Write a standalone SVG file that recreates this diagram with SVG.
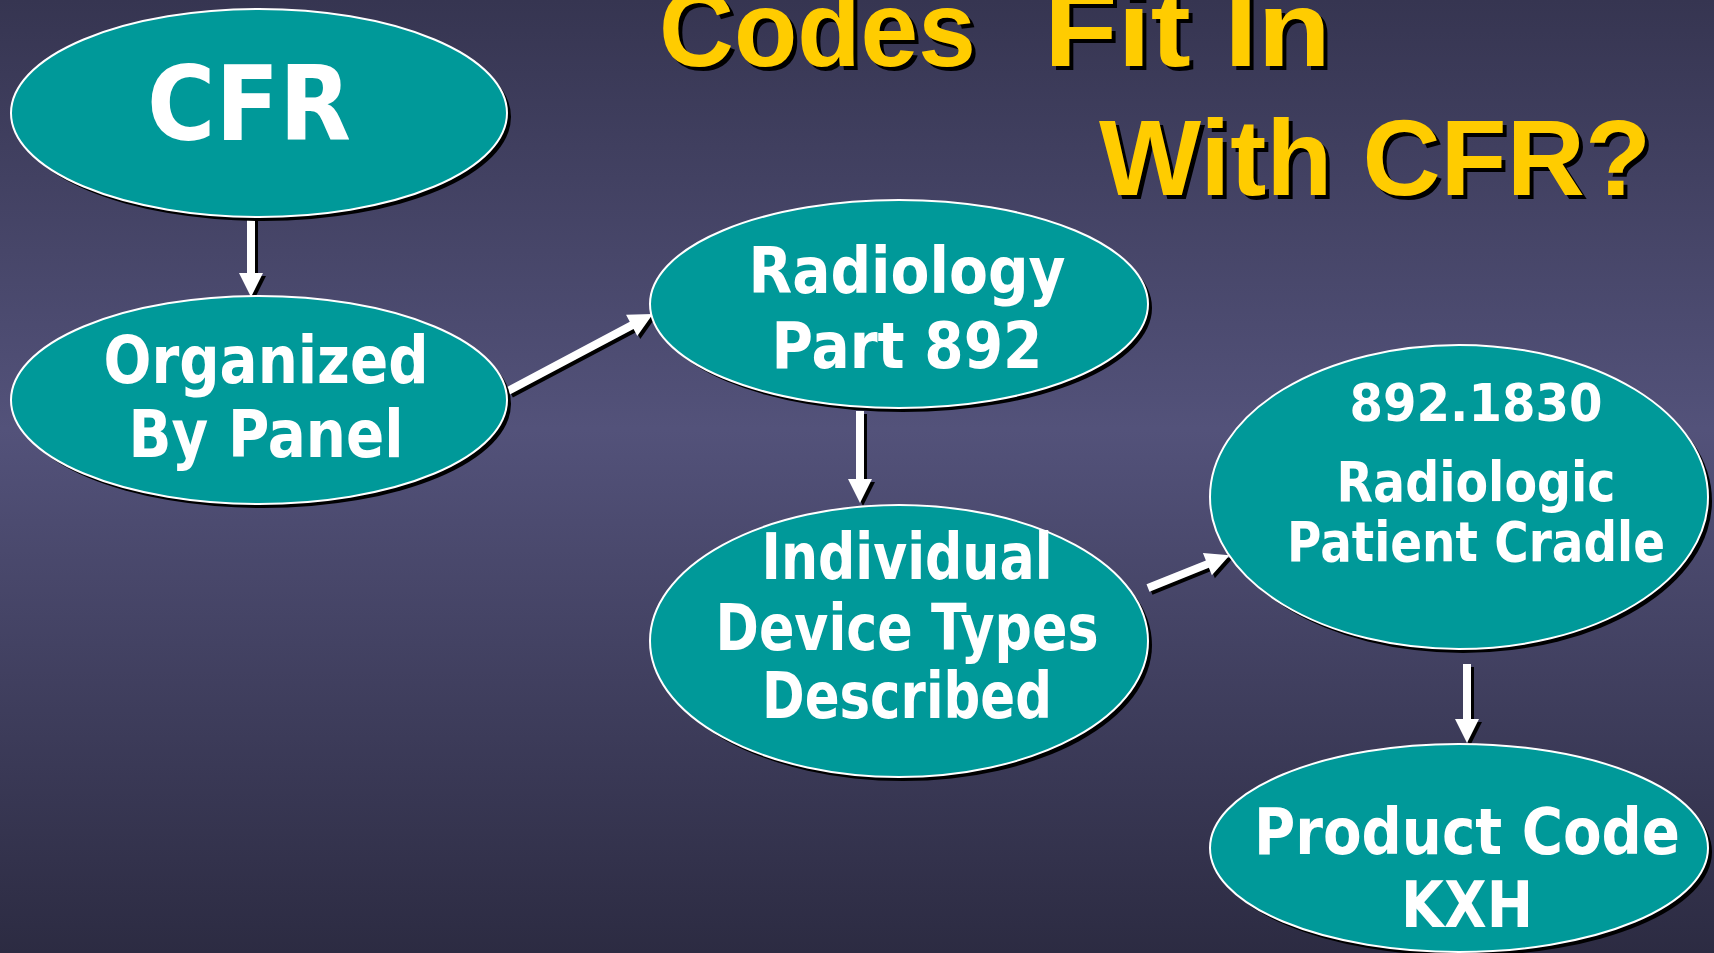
<svg xmlns="http://www.w3.org/2000/svg" width="1714" height="953" viewBox="0 0 1714 953">
<defs>
<linearGradient id="bg" x1="0" y1="0" x2="0" y2="1">
<stop offset="0" stop-color="#363551"/>
<stop offset="0.45" stop-color="#53527a"/>
<stop offset="1" stop-color="#2c2b42"/>
</linearGradient>
<style>
.node{fill:#009999;stroke:#ffffff;stroke-width:2}
.shadow{fill:#000000}
.lbl{font-family:"DejaVu Sans","Liberation Sans",sans-serif;font-weight:bold;fill:#ffffff;text-anchor:middle}
.title{font-family:"Liberation Sans",Arial,sans-serif;font-weight:bold;font-size:108px}
.ashadow{fill:#000000}
.arrow{fill:#ffffff}
</style>
</defs>
<rect x="0" y="0" width="1714" height="953" fill="url(#bg)"/>

<g id="title" class="title">
<text fill="#000000" transform="translate(4,4)"><tspan x="659" y="66" textLength="317" lengthAdjust="spacingAndGlyphs">Codes</tspan><tspan x="1044" y="66" textLength="287" lengthAdjust="spacingAndGlyphs">Fit In</tspan></text>
<text fill="#FFCC00"><tspan x="659" y="66" textLength="317" lengthAdjust="spacingAndGlyphs">Codes</tspan><tspan x="1044" y="66" textLength="287" lengthAdjust="spacingAndGlyphs">Fit In</tspan></text>
<text fill="#000000" x="1103" y="199" textLength="552" lengthAdjust="spacingAndGlyphs">With CFR?</text>
<text fill="#FFCC00" x="1099" y="195" textLength="552" lengthAdjust="spacingAndGlyphs">With CFR?</text>
</g>

<g id="connectors">
<!-- arrow 1 -->
<path class="ashadow" transform="translate(254,219) rotate(90)" d="M0,-4 H57 V-12 L81,0 L57,12 V4 H0 Z"/>
<path class="arrow" transform="translate(251,216) rotate(90)" d="M0,-4 H57 V-12 L81,0 L57,12 V4 H0 Z"/>
<!-- arrow 2 -->
<path class="ashadow" transform="translate(511,394) rotate(-27.96)" d="M0,-4 H140 V-12 L164,0 L140,12 V4 H0 Z"/>
<path class="arrow" transform="translate(508,391) rotate(-27.96)" d="M0,-4 H140 V-12 L164,0 L140,12 V4 H0 Z"/>
<!-- arrow 3 -->
<path class="ashadow" transform="translate(863,414) rotate(90)" d="M0,-4 H68 V-12 L92,0 L68,12 V4 H0 Z"/>
<path class="arrow" transform="translate(860,411) rotate(90)" d="M0,-4 H68 V-12 L92,0 L68,12 V4 H0 Z"/>
<!-- arrow 4 -->
<path class="ashadow" transform="translate(1151,591) rotate(-21.9)" d="M0,-4 H64 V-12 L88,0 L64,12 V4 H0 Z"/>
<path class="arrow" transform="translate(1148,588) rotate(-21.9)" d="M0,-4 H64 V-12 L88,0 L64,12 V4 H0 Z"/>
<!-- arrow 5 -->
<path class="ashadow" transform="translate(1470,667) rotate(90)" d="M0,-4 H55 V-12 L79,0 L55,12 V4 H0 Z"/>
<path class="arrow" transform="translate(1467,664) rotate(90)" d="M0,-4 H55 V-12 L79,0 L55,12 V4 H0 Z"/>
</g>

<g id="node-cfr">
<ellipse class="shadow" cx="263" cy="117" rx="248" ry="104"/>
<ellipse class="node" cx="259" cy="113" rx="248" ry="104"/>
<text class="lbl" x="249" y="140" font-size="104" textLength="204" lengthAdjust="spacingAndGlyphs">CFR</text>
</g>

<g id="node-organized">
<ellipse class="shadow" cx="263" cy="404" rx="248" ry="104"/>
<ellipse class="node" cx="259" cy="400" rx="248" ry="104"/>
<text class="lbl" x="266" y="383" font-size="66" textLength="325" lengthAdjust="spacingAndGlyphs">Organized</text>
<text class="lbl" x="266" y="457" font-size="66" textLength="275" lengthAdjust="spacingAndGlyphs">By Panel</text>
</g>

<g id="node-radiology">
<ellipse class="shadow" cx="903" cy="308" rx="249" ry="104"/>
<ellipse class="node" cx="899" cy="304" rx="249" ry="104"/>
<text class="lbl" x="907" y="293" font-size="64" textLength="317" lengthAdjust="spacingAndGlyphs">Radiology</text>
<text class="lbl" x="907" y="368" font-size="64" textLength="271" lengthAdjust="spacingAndGlyphs">Part 892</text>
</g>

<g id="node-individual">
<ellipse class="shadow" cx="903" cy="645" rx="249" ry="136"/>
<ellipse class="node" cx="899" cy="641" rx="249" ry="136"/>
<text class="lbl" x="907" y="579" font-size="64" textLength="291" lengthAdjust="spacingAndGlyphs">Individual</text>
<text class="lbl" x="907" y="650" font-size="64" textLength="383" lengthAdjust="spacingAndGlyphs">Device Types</text>
<text class="lbl" x="907" y="718" font-size="64" textLength="290" lengthAdjust="spacingAndGlyphs">Described</text>
</g>

<g id="node-cradle">
<ellipse class="shadow" cx="1463" cy="501" rx="249" ry="152"/>
<ellipse class="node" cx="1459" cy="497" rx="249" ry="152"/>
<text class="lbl" x="1476" y="421" font-size="52" textLength="253" lengthAdjust="spacingAndGlyphs">892.1830</text>
<text class="lbl" x="1476" y="501" font-size="56" textLength="279" lengthAdjust="spacingAndGlyphs">Radiologic</text>
<text class="lbl" x="1476" y="561" font-size="56" textLength="378" lengthAdjust="spacingAndGlyphs">Patient Cradle</text>
</g>

<g id="node-product">
<ellipse class="shadow" cx="1463" cy="852" rx="249" ry="104"/>
<ellipse class="node" cx="1459" cy="848" rx="249" ry="104"/>
<text class="lbl" x="1467" y="854" font-size="64" textLength="426" lengthAdjust="spacingAndGlyphs">Product Code</text>
<text class="lbl" x="1467" y="927" font-size="64" textLength="132" lengthAdjust="spacingAndGlyphs">KXH</text>
</g>
</svg>
